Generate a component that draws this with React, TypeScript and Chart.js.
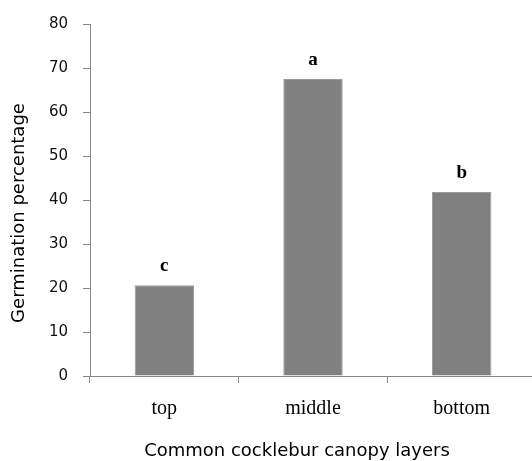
import React, { useEffect, useRef } from "react";
import { Chart, registerables } from "chart.js";

Chart.register(...registerables);

const categories = ["top", "middle", "bottom"];
const germination = [20.6, 67.5, 41.8];
const letters = ["c", "a", "b"];
const yTicks = [0, 10, 20, 30, 40, 50, 60, 70, 80];
const xTitle = "Common cocklebur canopy layers";
const yTitle = "Germination percentage";

const letterPlugin = {
  id: "letterPlugin",
  afterDatasetsDraw(chart: any) {
    const ctx = chart.ctx;
    const meta = chart.getDatasetMeta(0);
    ctx.save();
    ctx.font = "bold 19px 'Liberation Serif', serif";
    ctx.fillStyle = "#000";
    ctx.textAlign = "center";
    ctx.textBaseline = "alphabetic";
    meta.data.forEach((bar: any, i: number) => {
      ctx.fillText(letters[i], bar.x, bar.y - 14);
    });
    ctx.restore();
  },
};

const titlePlugin = {
  id: "titlePlugin",
  afterDraw(chart: any) {
    const ctx = chart.ctx;
    const area = chart.chartArea;
    ctx.save();
    ctx.font = "18px 'DejaVu Sans', sans-serif";
    ctx.fillStyle = "#000";
    ctx.textAlign = "center";
    ctx.textBaseline = "middle";
    ctx.fillText(xTitle, (area.left + area.right) / 2 - 16, chart.height - 10);
    ctx.translate(19, (area.top + area.bottom) / 2 + 13);
    ctx.rotate(-Math.PI / 2);
    ctx.fillText(yTitle, 0, 0);
    ctx.restore();
  },
};

export default function App() {
  const ref = useRef<HTMLCanvasElement | null>(null);
  useEffect(() => {
    document.body.style.margin = "0";
    const canvas = ref.current;
    if (!canvas) return;
    const axisColor = "#868686";
    const chart = new Chart(canvas, {
      type: "bar",
      data: {
        labels: categories,
        datasets: [
          {
            data: germination,
            backgroundColor: "#808080",
            borderColor: "#9a9a9a",
            borderWidth: 1,
            barPercentage: 0.4,
            categoryPercentage: 1,
          },
        ],
      },
      options: {
        responsive: false,
        animation: false,
        layout: { padding: { top: 22, left: 0, right: 0, bottom: 0 } },
        plugins: { legend: { display: false }, tooltip: { enabled: false } },
        scales: {
          x: {
            offset: true,
            grid: {
              offset: true,
              drawOnChartArea: false,
              drawTicks: true,
              tickLength: 7,
              color: axisColor,
            },
            border: { color: axisColor, width: 1 },
            ticks: {
              color: "#000",
              padding: 14,
              font: { family: "'Liberation Serif', serif", size: 20 },
            },
            afterFit(scale: any) {
              scale.height = 85;
            },
          },
          y: {
            min: 0,
            max: 80,
            afterBuildTicks(scale: any) {
              scale.ticks = yTicks.map((v) => ({ value: v }));
            },
            grid: {
              drawOnChartArea: false,
              drawTicks: true,
              tickLength: 7,
              color: axisColor,
            },
            border: { color: axisColor, width: 1 },
            ticks: {
              color: "#111",
              padding: 15,
              font: { family: "'DejaVu Sans', sans-serif", size: 15 },
            },
            afterFit(scale: any) {
              scale.width = 90;
            },
          },
        },
      },
      plugins: [letterPlugin, titlePlugin],
    });
    return () => chart.destroy();
  }, []);
  return (
    <div style={{ width: 532, height: 461, overflow: "hidden", background: "#fff" }}>
      <canvas ref={ref} width={536} height={461} style={{ display: "block" }} />
    </div>
  );
}
